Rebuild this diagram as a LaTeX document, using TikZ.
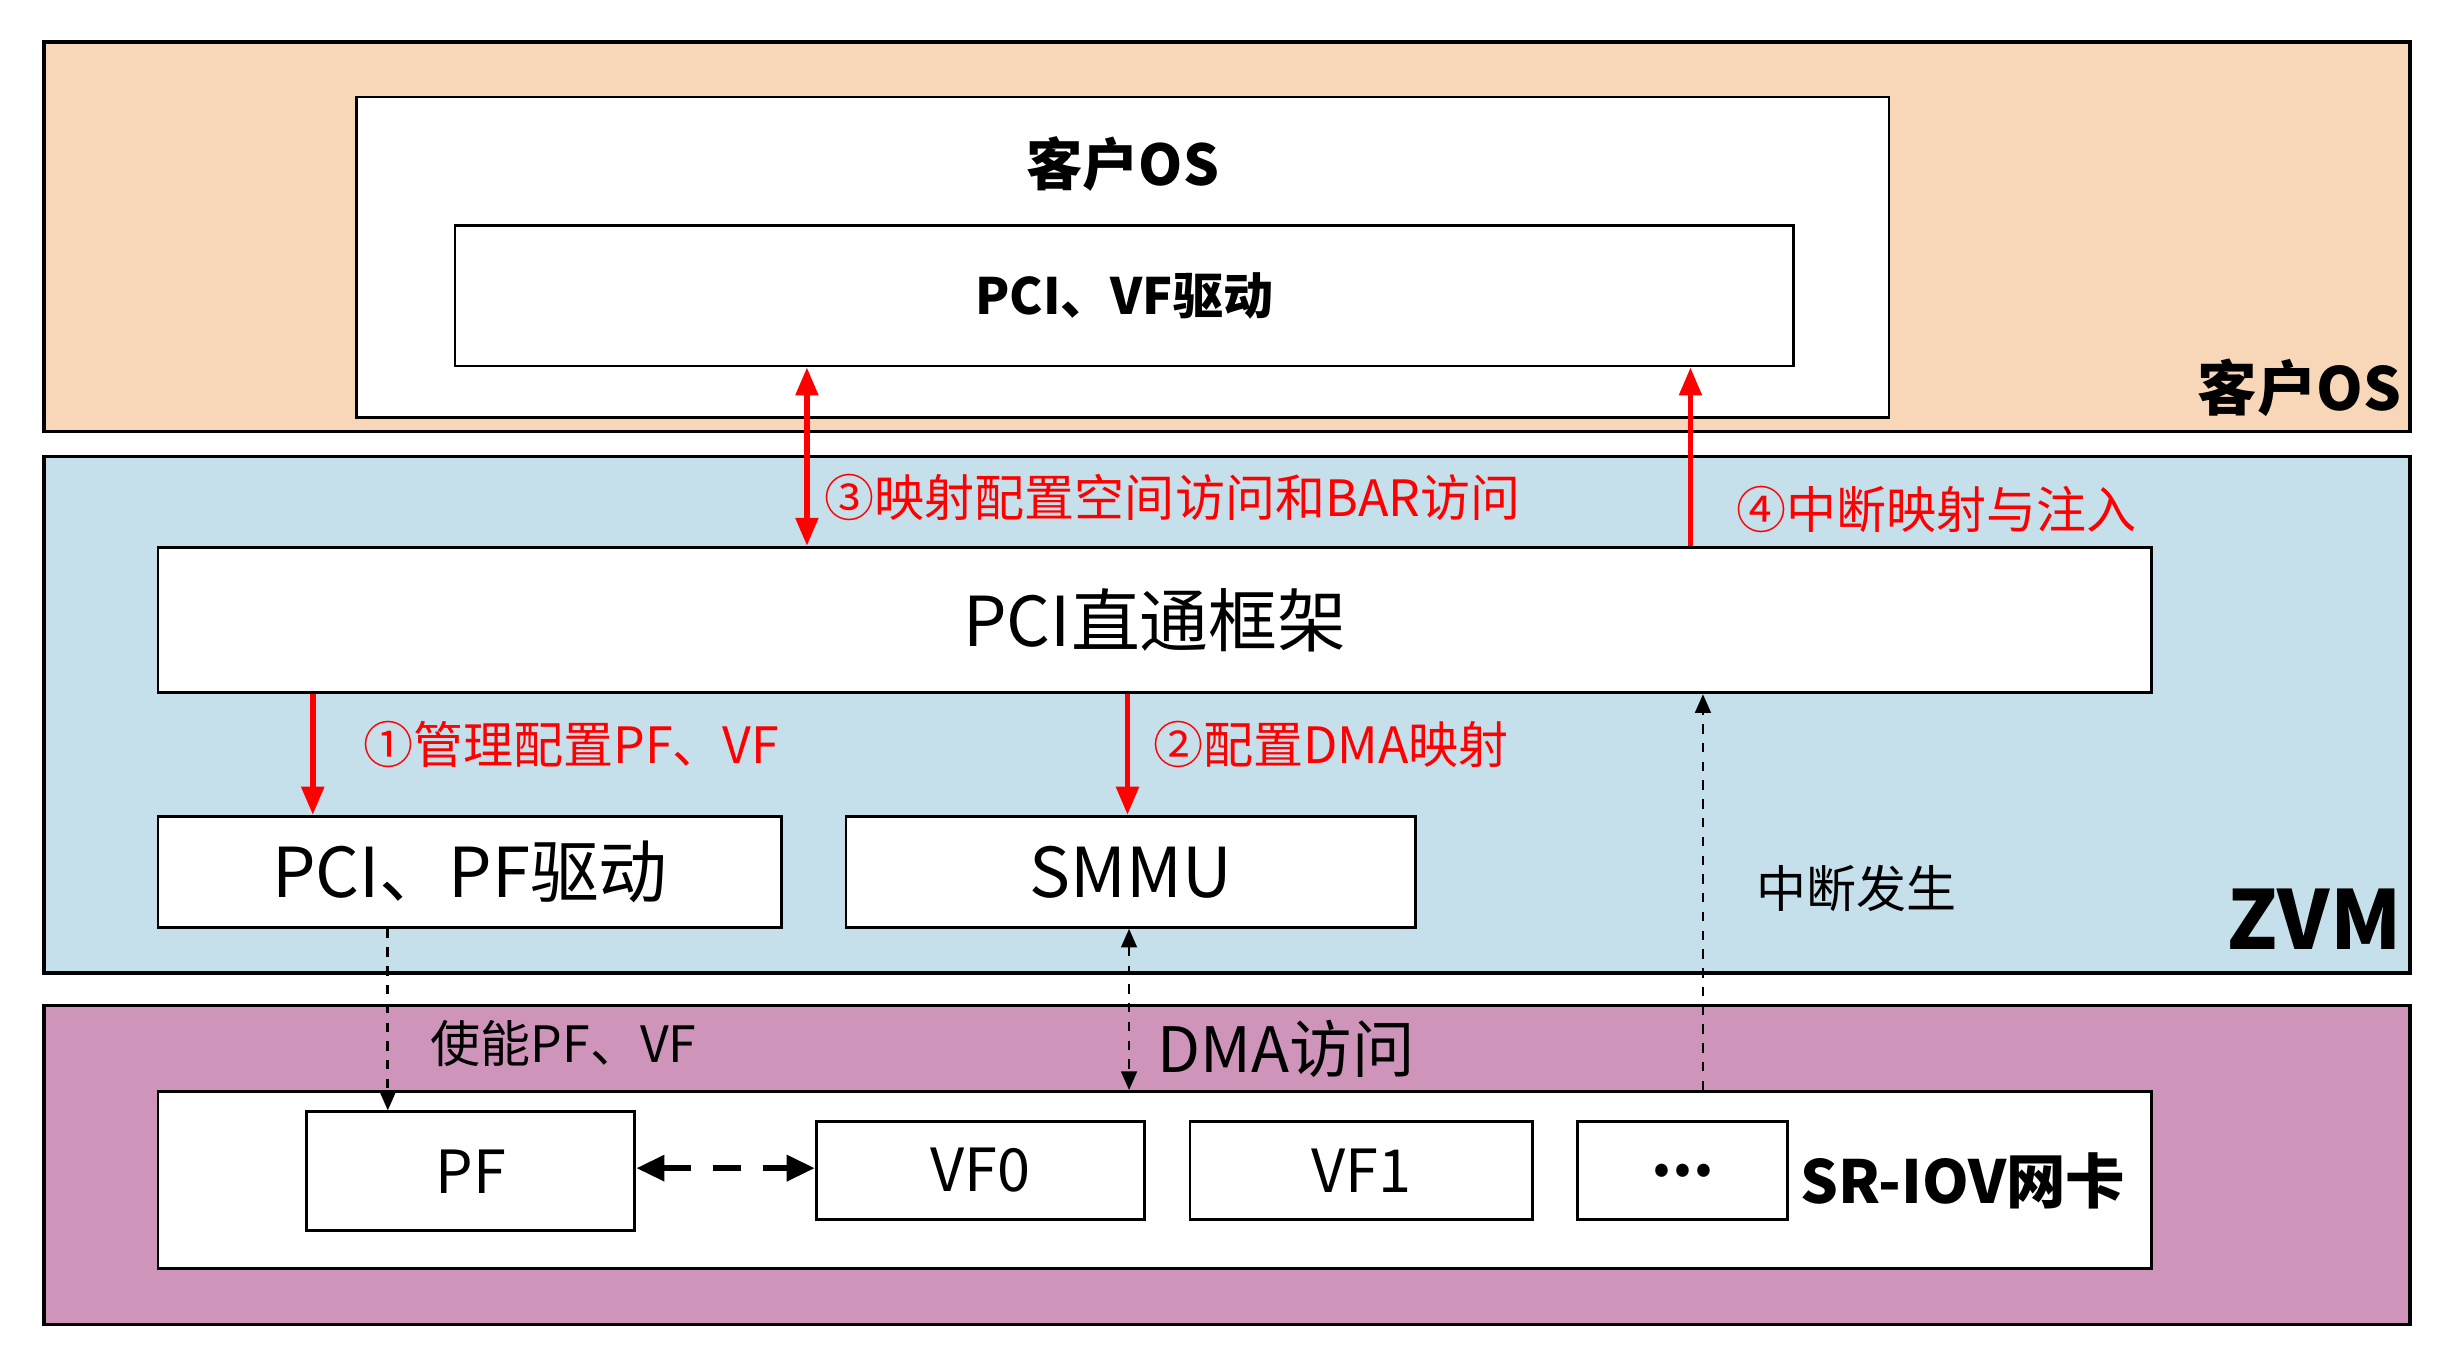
\documentclass[tikz,border=0pt]{standalone}
\usepackage{fontspec}
\setmainfont{Noto Sans CJK SC}
\usetikzlibrary{arrows.meta}
\definecolor{peach}{RGB}{248,215,184}
\definecolor{zvmblue}{RGB}{197,224,235}
\definecolor{nicpink}{RGB}{207,148,186}
\definecolor{arrred}{RGB}{255,0,0}
\tikzset{
  band/.style={draw=black, line width=1.2pt, inner sep=0pt},
  box/.style={draw=black, fill=white, line width=0.9pt, inner sep=0pt},
  redarr/.style={draw=arrred, line width=1.8pt, -{Triangle[length=9pt,width=7pt]}},
  dasharr/.style={draw=black, line width=0.9pt, dashed, -{Triangle[length=6pt,width=5pt]}},
  redtxt/.style={text=arrred, font=\fontsize{16}{18}\selectfont, anchor=west, inner sep=0pt},
  plaintxt/.style={font=\fontsize{16}{18}\selectfont, anchor=west, inner sep=0pt}
}
\begin{document}
\begin{tikzpicture}[x=0.5pt,y=-0.5pt]
\useasboundingbox (0,0) rectangle (1568,877);

% bands
\node[band, fill=peach, minimum width=756.5pt, minimum height=124.5pt] (osband) at (784.5,151.5) {};
\node[band, fill=zvmblue, minimum width=756.5pt, minimum height=165pt] (zvmband) at (784.5,457) {};
\node[band, fill=nicpink, minimum width=756.5pt, minimum height=102pt] (nicband) at (784.5,745) {};

% guest OS
\node[box, minimum width=490pt, minimum height=102.5pt] (guest) at (718,164.5) {};
\node[font=\fontsize{18}{20}\selectfont\bfseries] (guesttitle) at (718,105) {客户OS};
\node[box, minimum width=428pt, minimum height=45pt, font=\fontsize{16}{18}\selectfont\bfseries] (vfdrv) at (719,189) {PCI、VF驱动};
\node[font=\fontsize{19}{21}\selectfont\bfseries, anchor=east, inner sep=0pt] (oslabel) at (1536,248) {客户OS};

% ZVM
\node[box, minimum width=637.5pt, minimum height=46.5pt, font=\fontsize{22}{24}\selectfont] (passthru) at (738.5,396.5) {PCI直通框架};
\node[box, minimum width=199.5pt, minimum height=35.5pt, font=\fontsize{22}{24}\selectfont] (pfdrv) at (300.5,557.5) {PCI、PF驱动};
\node[box, minimum width=182pt, minimum height=35.5pt, font=\fontsize{22}{24}\selectfont] (smmu) at (723,557.5) {SMMU};
\node[font=\fontsize{26}{28}\selectfont\bfseries, anchor=east, inner sep=0pt] (zvmlabel) at (1536,588) {ZVM};

% SR-IOV NIC
\node[box, minimum width=637.5pt, minimum height=56.5pt] (nic) at (738.5,754.5) {};
\node[box, minimum width=105pt, minimum height=38pt, font=\fontsize{19}{21}\selectfont] (pf) at (301,749) {PF};
\node[box, minimum width=105pt, minimum height=31.5pt, font=\fontsize{19}{21}\selectfont] (vf0) at (627,748.5) {VF0};
\node[box, minimum width=109.5pt, minimum height=31.5pt, font=\fontsize{19}{21}\selectfont] (vf1) at (870.5,748.5) {VF1};
\node[box, minimum width=67pt, minimum height=31.5pt, font=\fontsize{19}{21}\selectfont\bfseries] (vfmore) at (1076,748.5) {...};
\node[font=\fontsize{19}{21}\selectfont\bfseries, anchor=west, inner sep=0pt] (niclabel) at (1151,755) {SR-IOV网卡};

% red arrows
\draw[redarr, {Triangle[length=9pt,width=7pt]}-{Triangle[length=9pt,width=7pt]}] (vfdrv.south -| 516,0) -- (passthru.north -| 516,0);
\node[redtxt] (lbl3) at (527,318) {③映射配置空间访问和BAR访问};
\draw[redarr] (passthru.north -| 1081,0) -- (vfdrv.south -| 1081,0);
\node[redtxt] (lbl4) at (1110,326) {④中断映射与注入};
\draw[redarr] (passthru.south -| 200,0) -- (pfdrv.north -| 200,0);
\node[redtxt] (lbl1) at (232,476) {①管理配置PF、VF};
\draw[redarr] (passthru.south -| 721,0) -- (smmu.north -| 721,0);
\node[redtxt] (lbl2) at (737,476) {②配置DMA映射};

% dashed arrows
\draw[dasharr] (pfdrv.south -| 248,0) -- (pf.north -| 248,0);
\node[plaintxt] (lblen) at (275,667) {使能PF、VF};
\draw[dasharr, {Triangle[length=6pt,width=5pt]}-{Triangle[length=6pt,width=5pt]}] (smmu.south -| 722,0) -- (nic.north -| 722,0);
\node[plaintxt, font=\fontsize{20}{22}\selectfont] (lbldma) at (740,671) {DMA访问};
\draw[dasharr] (nic.north -| 1089,0) -- (passthru.south -| 1089,0);
\node[plaintxt] (lblirq) at (1123,568) {中断发生};
\draw[line width=2pt, dash pattern=on 9pt off 7pt, {Triangle[length=9pt,width=8pt]}-{Triangle[length=9pt,width=8pt]}] (pf.east |- 0,747) -- (vf0.west |- 0,747);
\end{tikzpicture}
\end{document}
